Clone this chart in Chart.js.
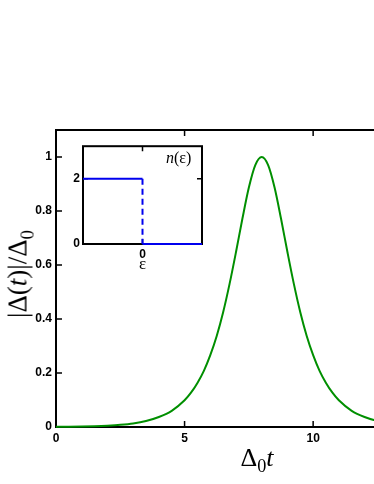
<!DOCTYPE html>
<html>
<head>
<meta charset="utf-8">
<script src="https://cdn.jsdelivr.net/npm/chart.js@4"></script>
<style>
  html, body { margin: 0; padding: 0; background: #fff; }
  #wrap { position: relative; width: 374px; height: 484px; overflow: hidden; }
  #main { position: absolute; left: 0; top: 0; }
  #inset { position: absolute; left: 62px; top: 136px; }
  .lab { position: absolute; white-space: nowrap; font-family: "Liberation Serif", "Times New Roman", serif; line-height: 1; color: #000; }
  .lab sub { font-size: 0.7em; vertical-align: -0.35em; line-height: 0; }
  #ylab { left: 18px; top: 274px; font-size: 27px; transform: translate(-50%, -50%) rotate(-90deg); }
  #xlab { left: 257px; top: 458px; font-size: 26px; transform: translate(-50%, -50%); }
  #nlab { left: 166px; top: 150px; font-size: 16px; }
</style>
</head>
<body>
<div id="wrap">
  <canvas id="main" width="430" height="484"></canvas>
  <canvas id="inset" width="146" height="139"></canvas>
  <div class="lab" id="ylab">|Δ(<i>t</i>)|/Δ<sub>0</sub></div>
  <div class="lab" id="xlab">Δ<sub>0</sub><i>t</i></div>
  <div class="lab" id="nlab"><i>n</i>(ε)</div>
</div>
<script>
// main curve
const timeValues = [0, 0.5, 1, 1.5, 2, 2.5, 3, 3.5, 4, 4.5, 5, 5.25, 5.5, 5.75, 6, 6.25, 6.5, 6.75, 7, 7.25, 7.5, 7.75, 8,
                    8.25, 8.5, 8.75, 9, 9.25, 9.5, 9.75, 10, 10.25, 10.5, 10.75, 11, 11.5, 12, 12.5, 13, 13.5, 14];
const gapValues = [0.0007, 0.0011, 0.0018, 0.003, 0.005, 0.008, 0.013, 0.022, 0.037, 0.060, 0.099, 0.127, 0.163, 0.208, 0.266, 0.337, 0.425, 0.530, 0.648, 0.772, 0.887, 0.970, 1.0,
                   0.970, 0.887, 0.772, 0.648, 0.530, 0.425, 0.337, 0.266, 0.208, 0.163, 0.127, 0.099, 0.060, 0.037, 0.022, 0.013, 0.008, 0.005];
const xTicksMain = [0, 5, 10];
const yTicksMain = [0, 0.2, 0.4, 0.6, 0.8, 1];

// inset: occupation n(eps) — filled part, the drop at eps=0, empty part
const epsFilled = [-1, 0];
const occFilled = [2, 2];
const epsDrop = [0, 0];
const occDrop = [2, 0];
const epsEmpty = [0, 1];
const occEmpty = [0, 0];
const xTicksInset = [0];
const yTicksInset = [0, 2];

const tickFont = { family: 'Liberation Sans, Arial, sans-serif', size: 12, weight: 'bold' };

// frame + inward ticks
const frameTicks = {
    id: 'frameTicks',
    beforeDatasetsDraw(chart, args, opts) {
        const ctx = chart.ctx;
        const a = chart.chartArea;
        const sx = chart.scales.x, sy = chart.scales.y;
        const len = opts.len || 6;
        ctx.save();
        ctx.strokeStyle = '#000';
        ctx.lineWidth = opts.width || 2;
        ctx.strokeRect(a.left, a.top, a.right - a.left, a.bottom - a.top);
        ctx.lineWidth = 1.5;
        ctx.beginPath();
        sx.ticks.forEach(t => {
            const px = sx.getPixelForValue(t.value);
            ctx.moveTo(px, a.bottom); ctx.lineTo(px, a.bottom - len);
            ctx.moveTo(px, a.top); ctx.lineTo(px, a.top + len);
        });
        sy.ticks.forEach(t => {
            const py = sy.getPixelForValue(t.value);
            ctx.moveTo(a.left, py); ctx.lineTo(a.left + len, py);
            ctx.moveTo(a.right, py); ctx.lineTo(a.right - len, py);
        });
        ctx.stroke();
        ctx.restore();
    }
};

function setTicks(list) {
    return function(scale) { scale.ticks = list.map(v => ({ value: v })); };
}
function plainLabel(value) {
    return String(Math.round(value * 10) / 10);
}
function pts(xs, ys) {
    return xs.map((x, i) => ({ x: x, y: ys[i] }));
}

new Chart(document.getElementById('main'), {
    type: 'line',
    data: {
        datasets: [{
            data: pts(timeValues, gapValues),
            borderColor: '#008f00',
            borderWidth: 2,
            pointRadius: 0,
            cubicInterpolationMode: 'monotone',
            clip: 3
        }]
    },
    options: {
        responsive: false,
        animation: false,
        layout: { padding: { top: 130, right: 14, left: 0, bottom: 0 } },
        plugins: { legend: { display: false }, tooltip: { enabled: false }, frameTicks: { len: 6, width: 2 } },
        scales: {
            x: {
                type: 'linear', min: 0, max: 14,
                afterBuildTicks: setTicks(xTicksMain),
                afterFit(scale) { scale.height = 57; },
                grid: { display: false, drawTicks: false },
                border: { display: false },
                ticks: { color: '#000', font: tickFont, padding: 4, maxRotation: 0, callback: plainLabel }
            },
            y: {
                type: 'linear', min: 0, max: 1.1,
                afterBuildTicks: setTicks(yTicksMain),
                afterFit(scale) { scale.width = 56; },
                grid: { display: false, drawTicks: false },
                border: { display: false },
                ticks: { color: '#000', font: tickFont, padding: 4, callback: plainLabel }
            }
        }
    },
    plugins: [frameTicks]
});

const blue = '#0000ee';
new Chart(document.getElementById('inset'), {
    type: 'line',
    data: {
        datasets: [
            { data: pts(epsFilled, occFilled), borderColor: blue, borderWidth: 2, pointRadius: 0, clip: 3 },
            { data: pts(epsDrop, occDrop), borderColor: blue, borderWidth: 2, pointRadius: 0, clip: 3, borderDash: [6, 4] },
            { data: pts(epsEmpty, occEmpty), borderColor: blue, borderWidth: 2, pointRadius: 0, clip: 3 }
        ]
    },
    options: {
        responsive: false,
        animation: false,
        layout: { padding: { top: 6, right: 6, left: 0, bottom: 0 } },
        plugins: { legend: { display: false }, tooltip: { enabled: false }, frameTicks: { len: 5, width: 2 } },
        scales: {
            x: {
                type: 'linear', min: -1, max: 1,
                afterBuildTicks: setTicks(xTicksInset),
                afterFit(scale) { scale.height = 31; },
                grid: { display: false, drawTicks: false },
                border: { display: false },
                ticks: { color: '#000', font: tickFont, padding: 3, maxRotation: 0, callback: plainLabel },
                title: { display: true, text: 'ε', color: '#000', padding: 0,
                         font: { family: 'Liberation Serif, Times New Roman, serif', size: 17 } }
            },
            y: {
                type: 'linear', min: 0, max: 3,
                afterBuildTicks: setTicks(yTicksInset),
                afterFit(scale) { scale.width = 21; },
                grid: { display: false, drawTicks: false },
                border: { display: false },
                ticks: { color: '#000', font: tickFont, padding: 3, callback: plainLabel }
            }
        }
    },
    plugins: [frameTicks]
});
</script>
</body>
</html>
